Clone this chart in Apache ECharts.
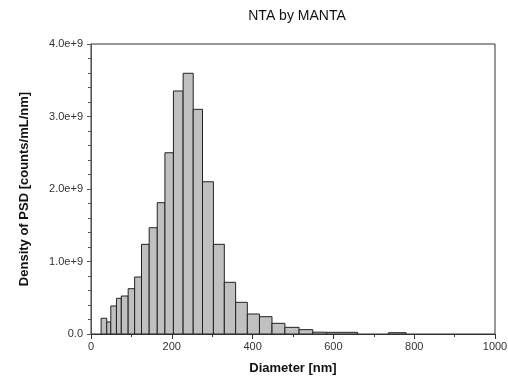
<!DOCTYPE html>
<html>
<head>
<meta charset="utf-8">
<script src="https://cdn.jsdelivr.net/npm/echarts@6/dist/echarts.min.js"></script>
<style>
html,body{margin:0;padding:0;background:#fff;}
#chart{width:508px;height:377px;}
</style>
</head>
<body>
<div id="chart"></div>
<script>
// Histogram bins (nm) and density values (counts/mL/nm)
const binStart = [25, 39, 49, 63, 75, 92, 108, 125, 144, 164, 183, 204, 228, 253, 276, 303, 330, 358, 387, 417, 448, 480, 515, 549, 583, 736];
const binEnd   = [39, 49, 63, 75, 92, 108, 125, 144, 164, 183, 204, 228, 253, 276, 303, 330, 358, 387, 417, 448, 480, 515, 549, 583, 660, 780];
const density  = [0.217e9, 0.166e9, 0.386e9, 0.492e9, 0.524e9, 0.625e9, 0.786e9, 1.237e9, 1.466e9, 1.811e9,
                  2.50e9, 3.352e9, 3.596e9, 3.099e9, 2.10e9, 1.237e9, 0.713e9, 0.437e9, 0.276e9, 0.239e9,
                  0.147e9, 0.092e9, 0.060e9, 0.025e9, 0.023e9, 0.018e9];
const yTickLabels = ['0.0', '1.0e+9', '2.0e+9', '3.0e+9', '4.0e+9'];
const xTickLabels = ['0', '200', '400', '600', '800', '1000'];

const data = binStart.map((s, i) => [s, binEnd[i], density[i]]);

const chart = echarts.init(document.getElementById('chart'), null, {renderer: 'canvas'});
const font = '"Liberation Sans", Arial, sans-serif';

chart.setOption({
  animation: false,
  backgroundColor: '#fff',
  title: {
    text: 'NTA by MANTA',
    left: 292, textAlign: 'center', top: 4,
    textStyle: {fontFamily: font, fontSize: 14, fontWeight: 'normal', color: '#111'}
  },
  grid: {
    left: 91, right: 13, top: 44, bottom: 43,
    outerBoundsMode: 'none', containLabel: false,
    show: true, borderColor: '#333', borderWidth: 1, backgroundColor: 'transparent'
  },
  xAxis: {
    type: 'value', min: 0, max: 1000, interval: 200,
    name: 'Diameter [nm]', nameLocation: 'middle', nameGap: 28,
    nameTextStyle: {fontFamily: font, fontSize: 13, fontWeight: 'bold', color: '#111'},
    axisLine: {show: true, lineStyle: {color: '#333', width: 1}},
    axisTick: {show: true, length: 5, lineStyle: {color: '#333'}},
    minorTick: {show: true, splitNumber: 2, length: 3, lineStyle: {color: '#333'}},
    splitLine: {show: false},
    axisLabel: {
      fontFamily: font, fontSize: 11, color: '#333', margin: 7,
      formatter: (v) => xTickLabels[Math.round(v / 200)]
    }
  },
  yAxis: {
    type: 'value', min: 0, max: 4e9, interval: 1e9,
    name: 'Density of PSD [counts/mL/nm]', nameLocation: 'middle', nameGap: 60,
    nameTextStyle: {fontFamily: font, fontSize: 13, fontWeight: 'bold', color: '#111'},
    axisLine: {show: true, lineStyle: {color: '#555', width: 1}},
    axisTick: {show: true, length: 4, lineStyle: {color: '#555'}},
    minorTick: {show: true, splitNumber: 5, length: 3, lineStyle: {color: '#555'}},
    splitLine: {show: false},
    axisLabel: {
      fontFamily: font, fontSize: 11, color: '#333', margin: 8,
      formatter: (v) => yTickLabels[Math.round(v / 1e9)]
    }
  },
  series: [{
    type: 'custom',
    data: data,
    encode: {x: [0, 1], y: 2},
    clip: true,
    renderItem: function (params, api) {
      const p0 = api.coord([api.value(0), api.value(2)]);
      const p1 = api.coord([api.value(1), 0]);
      return {
        type: 'rect',
        shape: {x: p0[0], y: p0[1], width: p1[0] - p0[0], height: p1[1] - p0[1]},
        style: {fill: '#c0c0c0', stroke: '#222', lineWidth: 1}
      };
    }
  }]
});
</script>
</body>
</html>
